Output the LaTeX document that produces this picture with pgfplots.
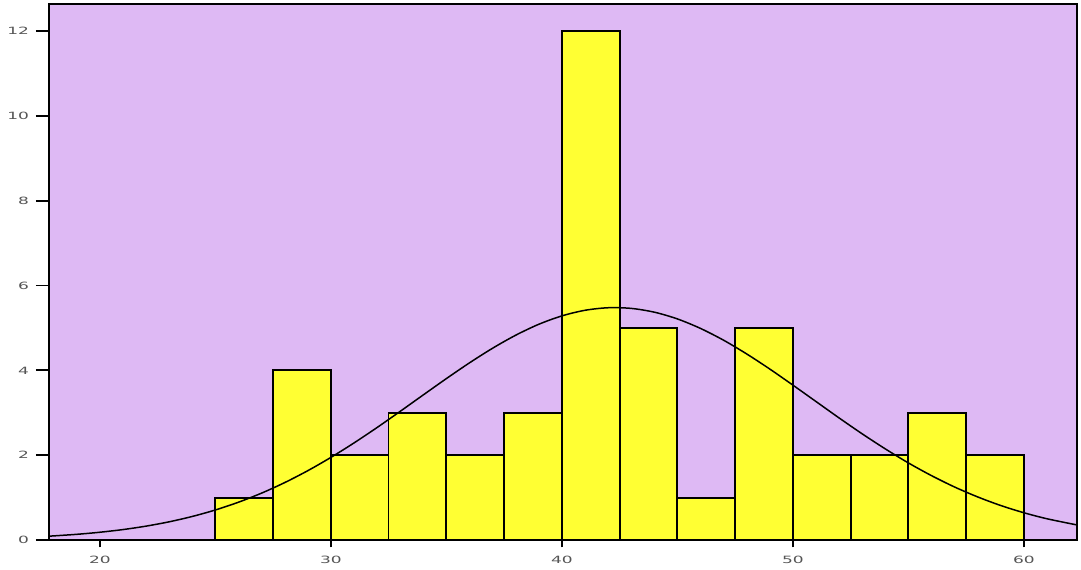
\documentclass[border=0pt]{standalone}
\usepackage{fontspec}
\usepackage{pgfplots}
\pgfplotsset{compat=1.18}
\usetikzlibrary{calc}
\newfontfamily\tickfont[FakeStretch=1.7]{DejaVu Sans}
\definecolor{bgp}{RGB}{222,185,244}
\definecolor{baryel}{RGB}{255,255,51}
\definecolor{tickgray}{RGB}{85,85,85}
\begin{document}
\begin{tikzpicture}
\begin{axis}[
 scale only axis, width=514pt, height=268pt,
 xmin=17.8, xmax=62.3, ymin=0, ymax=12.64,
 axis background/.style={fill=bgp},
 xtick={20,30,40,50,60}, ytick={0,2,4,6,8,10,12},
 tick align=outside, major tick length=6.5pt,
 tick style={black, line width=0.9pt},
 x tick style={draw=none},
 axis line style={black, line width=0.9pt},
 tick pos=left,
 ticklabel style={font=\tickfont\fontsize{5}{6}\selectfont, text=tickgray},
 xticklabel style={yshift=2pt},
 /pgf/number format/assume math mode=true,
 clip=true,
]
\addplot[ybar interval, fill=baryel, draw=black, line width=0.9pt] coordinates {
 (25,1) (27.5,4) (30,2) (32.5,3) (35,2) (37.5,3) (40,12) (42.5,5) (45,1) (47.5,5) (50,2) (52.5,2) (55,3) (57.5,2) (60,2)};
\addplot[black, line width=0.75pt, smooth, mark=none] coordinates {
 (17.8,0.090) (19,0.134) (20,0.183) (21,0.246) (22,0.327) (23,0.429) (24,0.555) (25,0.708) (26,0.891) (27,1.105) (28,1.353) (29,1.634) (30,1.947) (31,2.288) (32,2.652) (33,3.033) (34,3.421) (35,3.806) (36,4.177) (37,4.522) (38,4.829) (39,5.087) (40,5.285) (41,5.417) (42,5.477) (43,5.462) (44,5.373) (45,5.214) (46,4.990) (47,4.712) (48,4.388) (49,4.032) (50,3.653) (51,3.266) (52,2.879) (53,2.504) (54,2.149) (55,1.818) (56,1.518) (57,1.250) (58,1.016) (59,0.813) (60,0.643) (61,0.501) (62.3,0.355)};
\end{axis}
\begin{axis}[
 scale only axis, width=514pt, height=268pt,
 xmin=17.8, xmax=62.3, ymin=0, ymax=12.64,
 xtick={20,30,40,50,60}, xticklabels={}, ytick=\empty,
 tick align=outside, major tick length=3.7pt,
 tick style={black, line width=0.9pt},
 axis line style={draw=none},
 tick pos=left,
]
\end{axis}
\pgfresetboundingbox
\path ($(current axis.south west)+(-24.5pt,-14.5pt)$) rectangle ($(current axis.north east)+(2pt,2pt)$);
\end{tikzpicture}
\end{document}
